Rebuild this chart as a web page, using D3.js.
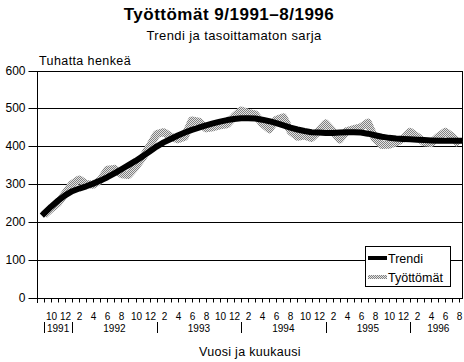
<!DOCTYPE html>
<html><head><meta charset="utf-8">
<script src="https://cdn.jsdelivr.net/npm/d3@7"></script>
<style>
body{margin:0;background:#fff}
svg{display:block}
text{font-family:"Liberation Sans",Arial,Helvetica,sans-serif;fill:#000}
</style>
</head><body>
<svg id="c" width="464" height="362"></svg>
<script>
const title = "Työttömät 9/1991–8/1996";
const subtitle = "Trendi ja tasoittamaton sarja";
const yLabel = "Tuhatta henkeä";
const xLabel = "Vuosi ja kuukausi";
const seriesNames = ["Trendi", "Työttömät"];
// categories: 9/1991 .. 8/1996
const months = d3.timeMonth.range(new Date(1991, 8, 1), new Date(1996, 8, 1));
const labelledMonths = [2, 4, 6, 8, 10, 12];
const yTicks = [0, 100, 200, 300, 400, 500, 600];
const trend = [
  222, 240, 256, 270, 281, 288, 294, 301, 309, 318, 328, 339,
  350, 361, 373, 386, 399, 410, 419, 428, 436, 443, 449, 455,
  460, 465, 469, 472, 474, 474, 473, 470, 466, 461, 455, 449,
  444, 440, 437, 436, 435, 435, 436, 437, 437, 436, 433, 429,
  425, 422, 420, 419, 418, 417, 416, 415, 414, 414, 414, 414
];
const unemployed = [
  218, 235, 250, 275, 300, 312, 300, 298, 310, 338, 340, 326,
  324, 345, 370, 400, 432, 437, 425, 418, 425, 468, 465, 447,
  450, 455, 458, 478, 494, 488, 484, 460, 445, 470, 476, 440,
  425, 428, 422, 440, 460, 440, 418, 440, 445, 450, 462, 420,
  403, 404, 410, 420, 438, 425, 410, 408, 425, 438, 425, 405
];

const svg = d3.select("#c");
const left = 37, right = 462;
const x = d3.scalePoint().domain(d3.range(months.length)).range([44, 459.4]);
const y = d3.scaleLinear().domain([0, 600]).range([297.5, 70.5]);

// pattern for unadjusted series
const defs = svg.append("defs");
const pat = defs.append("pattern").attr("id", "dither").attr("patternUnits", "userSpaceOnUse")
  .attr("width", 2).attr("height", 2);
pat.append("rect").attr("width", 2).attr("height", 2).attr("fill", "#e4e4e4");
pat.append("rect").attr("x", 0).attr("y", 0).attr("width", 1).attr("height", 1).attr("fill", "#808080");
pat.append("rect").attr("x", 1).attr("y", 1).attr("width", 1).attr("height", 1).attr("fill", "#808080");

// titles
svg.append("text").attr("x", 229).attr("y", 20).attr("text-anchor", "middle")
  .attr("font-size", 17).attr("font-weight", "bold").attr("letter-spacing", 0.5).text(title);
svg.append("text").attr("x", 234).attr("y", 40).attr("text-anchor", "middle")
  .attr("font-size", 13).attr("letter-spacing", 0.4).text(subtitle);
svg.append("text").attr("x", 39).attr("y", 65).attr("font-size", 12.5).attr("letter-spacing", 0.4).text(yLabel);

// gridlines
svg.append("g").selectAll("line").data(yTicks.filter(d => d > 0)).join("line")
  .attr("x1", left).attr("x2", right)
  .attr("y1", d => Math.round(y(d)) + 0.5).attr("y2", d => Math.round(y(d)) + 0.5)
  .attr("stroke", "#000").attr("stroke-width", 1);
// right border
svg.append("line").attr("x1", right + 0.5).attr("x2", right + 0.5)
  .attr("y1", Math.round(y(600))).attr("y2", Math.round(y(0)) + 1).attr("stroke", "#000");

// y axis
const yAxis = svg.append("g").attr("transform", `translate(${left + 0.5},0.5)`)
  .call(d3.axisLeft(y).tickValues(yTicks).tickSizeInner(9).tickSizeOuter(0).tickPadding(3));
yAxis.select(".domain").remove();
yAxis.selectAll(".tick").attr("transform", d => `translate(0,${Math.round(y(d))})`);
yAxis.selectAll("text").attr("font-size", 12).attr("font-family", null);
svg.append("line").attr("x1", left + 0.5).attr("x2", left + 0.5)
  .attr("y1", Math.round(y(600))).attr("y2", Math.round(y(0)) + 5).attr("stroke", "#000");

// x axis
const x0 = Math.round(y(0)) + 0.5;
const xAxis = svg.append("g").attr("transform", `translate(0,${x0})`)
  .call(d3.axisBottom(x).tickSizeInner(4).tickSizeOuter(0).tickPadding(10)
    .tickFormat(i => labelledMonths.includes(months[i].getMonth() + 1) ? String(months[i].getMonth() + 1) : ""));
xAxis.select(".domain").remove();
xAxis.selectAll(".tick").attr("transform", d => `translate(${Math.round(x(d)) + 0.5},0)`);
xAxis.selectAll("text").attr("font-size", 10).attr("font-family", null);
svg.append("line").attr("x1", left).attr("x2", right + 1).attr("y1", x0).attr("y2", x0).attr("stroke", "#000");

// year groups
const step = x.step();
const years = Array.from(new Set(months.map(m => m.getFullYear())));
const yearStart = years.map(yr => months.findIndex(m => m.getFullYear() === yr));
const yg = svg.append("g");
yearStart.forEach((si, k) => {
  const xs = x(si);
  const xe = k < years.length - 1 ? x(yearStart[k + 1]) : x(months.length - 1) + step;
  yg.append("line").attr("x1", Math.round(xs) + 0.5).attr("x2", Math.round(xs) + 0.5)
    .attr("y1", 322).attr("y2", 333).attr("stroke", "#000");
  yg.append("text").attr("x", (xs + xe) / 2).attr("y", 332).attr("text-anchor", "middle")
    .attr("font-size", 10).text(years[k]);
});

svg.append("text").attr("x", 250).attr("y", 356).attr("text-anchor", "middle")
  .attr("font-size", 12.5).attr("letter-spacing", 0.3).text(xLabel);

// series
const line = d3.line().x((d, i) => x(i)).y(d => y(d));
svg.append("path").datum(unemployed).attr("d", line).attr("fill", "none")
  .attr("stroke", "url(#dither)").attr("stroke-width", 8).attr("stroke-linejoin", "round");
svg.append("path").datum(trend).attr("d", line).attr("fill", "none")
  .attr("stroke", "#000").attr("stroke-width", 6).attr("stroke-linejoin", "round").attr("stroke-linecap", "square");

// legend
const lg = svg.append("g");
lg.append("rect").attr("x", 365.5).attr("y", 246.5).attr("width", 85).attr("height", 40)
  .attr("fill", "#fff").attr("stroke", "#000");
const strokes = ["#000", "url(#dither)"];
seriesNames.forEach((n, i) => {
  const ly = 258 + i * 19;
  lg.append("line").attr("x1", 368).attr("x2", 387).attr("y1", ly).attr("y2", ly)
    .attr("stroke", strokes[i]).attr("stroke-width", 4);
  lg.append("text").attr("x", 388).attr("y", ly + 4.5).attr("font-size", 12.5).text(n);
});
</script>
</body></html>
